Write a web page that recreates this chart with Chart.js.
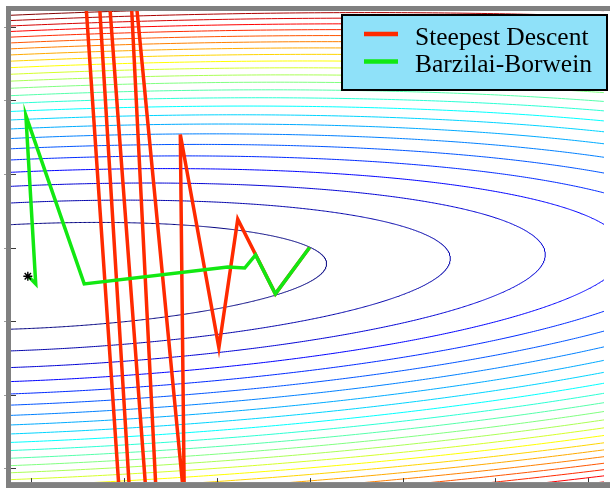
<!DOCTYPE html>
<html><head><meta charset="utf-8">
<script src="https://cdn.jsdelivr.net/npm/chart.js@4/dist/chart.umd.min.js"></script>
<style>html,body{margin:0;padding:0;background:#fff;overflow:hidden}#wrap{width:610px;height:488px;position:relative}</style>
</head><body><div id="wrap"><canvas id="c" width="610" height="488"></canvas></div>
<script>
// ---- data ----
const seriesNames = ['Steepest Descent', 'Barzilai-Borwein'];
// steepest descent iterates (several lie outside the visible window)
const sdX = [3.000, 2.632, 2.227, 2.024, 1.609, 1.652, 1.023, 1.577, 0.213, 2.099, -1.385];
const sdY = [3.000, 2.370, 3.386, 1.639, 4.537, -0.461, 7.802, -6.054, 17.093, -21.563, 42.936];
// Barzilai-Borwein iterates
const bbX = [3.000, 2.632, 2.419, 2.302, 2.120, 0.575, -0.053, 0.053, -0.021];
const bbY = [3.000, 2.370, 2.899, 2.722, 2.736, 2.506, 4.795, 2.506, 2.601];
// minimiser (star)
const minX = [-0.032];
const minY = [2.610];
// quadratic f = qa*dx^2 + 2*qb*dx*dy + qc*dy^2 around the minimiser
const quadCoef = [0.1023, -0.1046, 1.974];
// contour levels
const contourLevels = [1,2,3,4,5,6,7,8,9,10,11,12,13,14,15,16,17,18,19,20,21,22,23,24,25,26,27];
const xTicks = [0,1,2,3,4,5,6];
const yTicks = [0,1,2,3,4,5,6];

// ---- build ----
function jet(t){
  t = Math.max(0, Math.min(1, t));
  const cl = v => Math.max(0, Math.min(1, v));
  const r = cl(1.5 - Math.abs(4*t - 3)), g = cl(1.5 - Math.abs(4*t - 2)), b = cl(1.5 - Math.abs(4*t - 1));
  return `rgb(${Math.round(r*255)},${Math.round(g*255)},${Math.round(b*255)})`;
}
const [qa, qb, qc] = quadCoef;
const mean = (qa + qc)/2, rad = Math.sqrt(((qa - qc)/2)**2 + qb*qb);
const l1 = mean - rad, l2 = mean + rad;
let e1 = [l1 - qc, qb]; let n1 = Math.hypot(e1[0], e1[1]); e1 = [e1[0]/n1, e1[1]/n1];
const e2 = [-e1[1], e1[0]];

const datasets = [];
contourLevels.forEach((L, i) => {
  const pts = [];
  const N = 1440;
  for (let k = 0; k <= N; k++) {
    const t = 2*Math.PI*k/N;
    const a = Math.sqrt(L/l1)*Math.cos(t), b = Math.sqrt(L/l2)*Math.sin(t);
    pts.push({x: minX[0] + a*e1[0] + b*e2[0], y: minY[0] + a*e1[1] + b*e2[1]});
  }
  datasets.push({data: pts, showLine: true, borderColor: jet((L - 1)/24), borderWidth: 1,
    pointRadius: 0, fill: false, tension: 0, clip: 0, order: 10});
});
datasets.push({label: seriesNames[0], data: sdX.map((x, i) => ({x, y: sdY[i]})), showLine: true,
  borderColor: '#ff2a00', borderWidth: 3.5, pointRadius: 0, tension: 0, clip: 0, order: 3});
datasets.push({label: seriesNames[1], data: bbX.map((x, i) => ({x, y: bbY[i]})), showLine: true,
  borderColor: '#12e812', borderWidth: 3.5, pointRadius: 0, tension: 0, clip: 0, order: 2});
datasets.push({data: minX.map((x, i) => ({x, y: minY[i]})), showLine: false, pointStyle: 'star',
  pointRadius: 4.5, borderColor: '#000', backgroundColor: '#000', pointBorderWidth: 1.4, borderWidth: 1.4, clip: 0, order: 1});

const framePlugin = {
  id: 'frame',
  afterDraw(chart) {
    const ctx = chart.ctx, ca = chart.chartArea;
    const xs = chart.scales.x, ys = chart.scales.y;
    ctx.save();
    ctx.fillStyle = '#808080';
    ctx.fillRect(6, 6, 5, 483);
    ctx.fillRect(6, 6, 604, 5);
    ctx.fillRect(6, ca.bottom, 604, 488 - ca.bottom);
    ctx.strokeStyle = '#3a3a3a'; ctx.lineWidth = 1;
    ctx.beginPath();
    yTicks.forEach(v => { const p = Math.round(ys.getPixelForValue(v)) + 0.5; ctx.moveTo(ca.left, p); ctx.lineTo(ca.left + 5, p); });
    xTicks.forEach(v => { const p = Math.round(xs.getPixelForValue(v)) + 0.5; ctx.moveTo(p, ca.bottom); ctx.lineTo(p, ca.bottom - 4); });
    ctx.stroke();
    ctx.strokeStyle = '#9a9a9a';
    ctx.beginPath();
    yTicks.forEach(v => { const p = Math.round(ys.getPixelForValue(v)) + 0.5; ctx.moveTo(4, p); ctx.lineTo(6, p); });
    ctx.stroke();
    // legend
    const bx = 342, by = 15, bw = 265, bh = 75;
    ctx.fillStyle = '#8fe1f9';
    ctx.fillRect(bx, by, bw, bh);
    ctx.lineWidth = 2; ctx.strokeStyle = '#000';
    ctx.strokeRect(bx, by, bw, bh);
    const cols = ['#ff2a00', '#12e812'];
    const rows = [34, 61.5];
    const bases = [45, 72];
    ctx.font = '25.5px "Liberation Serif", "Times New Roman", serif';
    ctx.textBaseline = 'alphabetic';
    seriesNames.forEach((name, i) => {
      ctx.strokeStyle = cols[i]; ctx.lineWidth = 4.5;
      ctx.beginPath(); ctx.moveTo(364, rows[i]); ctx.lineTo(398, rows[i]); ctx.stroke();
      ctx.fillStyle = '#000';
      ctx.fillText(name, 415, bases[i]);
    });
    ctx.restore();
  }
};

new Chart(document.getElementById('c'), {
  type: 'scatter',
  data: {datasets},
  options: {
    responsive: false, animation: false, devicePixelRatio: 1,
    layout: {padding: {left: 11, top: 11, right: 0, bottom: 4}},
    plugins: {legend: {display: false}, tooltip: {enabled: false}},
    scales: {
      x: {type: 'linear', display: false, min: (11 - 31)/93.85, max: (610 - 31)/93.85},
      y: {type: 'linear', display: false, min: (470 - 484)/73.83, max: (470 - 11)/73.83}
    }
  },
  plugins: [framePlugin]
});
</script>
</body></html>
